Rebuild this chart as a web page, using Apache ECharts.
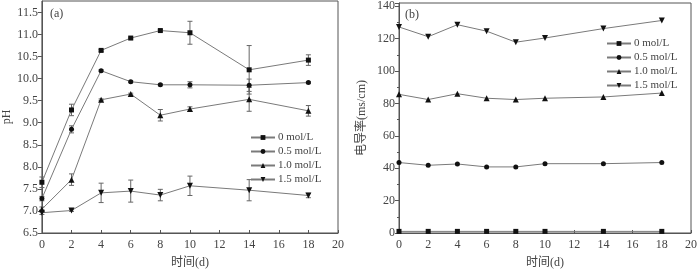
<!DOCTYPE html>
<html><head><meta charset="utf-8">
<script src="https://cdn.jsdelivr.net/npm/echarts@6/dist/echarts.min.js"></script>
<style>html,body{margin:0;padding:0;background:#fff}#c{width:700px;height:274px}</style>
</head><body><div id="c"></div>
<script>
const days = [0, 2, 4, 6, 8, 10, 14, 18];
const seriesNames = ['0 mol/L', '0.5 mol/L', '1.0 mol/L', '1.5 mol/L'];
const xTicks = [0, 2, 4, 6, 8, 10, 12, 14, 16, 18, 20];
const phTicks = [6.5, 7.0, 7.5, 8.0, 8.5, 9.0, 9.5, 10.0, 10.5, 11.0, 11.5];
const ecTicks = [0, 20, 40, 60, 80, 100, 120, 140];

// (a) pH
const ph0  = [7.65, 9.29, 10.64, 10.92, 11.09, 11.04, 10.20, 10.42];
const ph05 = [7.28, 8.85, 10.18, 9.93, 9.86, 9.86, 9.85, 9.91];
const ph10 = [7.04, 7.71, 9.52, 9.65, 9.17, 9.31, 9.53, 9.27];
const ph15 = [6.96, 7.01, 7.41, 7.45, 7.36, 7.57, 7.47, 7.35];
const err0  = [0.12, 0.13, 0.02, 0.02, 0.02, 0.26, 0.55, 0.12];
const err05 = [0.05, 0.08, 0.02, 0.02, 0.02, 0.07, 0.14, 0.02];
const err10 = [0.05, 0.13, 0.02, 0.02, 0.13, 0.05, 0.27, 0.12];
const err15 = [0.04, 0.02, 0.22, 0.25, 0.13, 0.22, 0.24, 0.05];

// (b) conductivity
const ec0  = [1.0, 1.0, 1.0, 1.0, 1.0, 1.0, 1.0, 1.0];
const ec05 = [43.5, 41.8, 42.6, 40.8, 40.8, 42.8, 42.8, 43.5];
const ec10 = [85.6, 82.4, 86.0, 83.2, 82.4, 83.2, 84.0, 86.4];
const ec15 = [127.2, 121.2, 128.6, 124.6, 117.8, 120.4, 126.2, 131.2];

const symbols = ['rect', 'circle', 'triangle', 'triangle'];
const rotates = [0, 0, 0, 180];
const sizes = [5, 5, 6, 6];
const FONT = "'Liberation Serif', 'Noto Sans CJK SC', serif";
const AX = '#555';
const TXT = '#444';

function pairs(ys) { return days.map((d, i) => [d, ys[i]]); }
function errTriples(ys, es) { return days.map((d, i) => [d, ys[i], es[i]]); }

function lineSeries(name, ys, idx, axisIdx) {
  return {
    name: name, type: 'line', xAxisIndex: axisIdx, yAxisIndex: axisIdx,
    data: pairs(ys), symbol: symbols[idx], symbolRotate: rotates[idx], symbolSize: sizes[idx],
    lineStyle: { color: '#7a7a7a', width: 1 }, itemStyle: { color: '#111' },
    z: 3, animation: false
  };
}
function errSeries(ys, es, axisIdx) {
  return {
    name: 'err', type: 'custom', xAxisIndex: axisIdx, yAxisIndex: axisIdx,
    data: errTriples(ys, es), encode: { x: 0, y: 1 }, z: 2, silent: true, animation: false,
    renderItem: function (params, api) {
      const x = api.value(0), y = api.value(1), e = api.value(2);
      const top = api.coord([x, y + e]);
      const bot = api.coord([x, y - e]);
      const w = 2.5;
      const st = { stroke: '#666', lineWidth: 1 };
      return { type: 'group', children: [
        { type: 'line', shape: { x1: top[0], y1: top[1], x2: bot[0], y2: bot[1] }, style: st },
        { type: 'line', shape: { x1: top[0] - w, y1: top[1], x2: top[0] + w, y2: top[1] }, style: st },
        { type: 'line', shape: { x1: bot[0] - w, y1: bot[1], x2: bot[0] + w, y2: bot[1] }, style: st }
      ] };
    }
  };
}

function xAxis(gi) {
  return {
    type: 'value', gridIndex: gi, min: 0, max: 20, interval: 2,
    name: '时间(d)', nameLocation: 'middle', nameGap: 24,
    nameTextStyle: { fontFamily: FONT, fontSize: 12, color: TXT },
    axisLine: { lineStyle: { color: AX } },
    axisTick: { inside: true, length: 3, lineStyle: { color: AX } },
    axisLabel: { fontFamily: FONT, fontSize: 12, color: TXT, margin: 6,
      formatter: v => xTicks.includes(v) ? String(v) : '' },
    splitLine: { show: false }
  };
}

const option = {
  animation: false,
  grid: [
    { left: 39, right: 362, top: 1, bottom: 31, show: true, borderColor: AX, borderWidth: 1 },
    { left: 399, right: 6, top: 3, bottom: 34.5, show: true, borderColor: AX, borderWidth: 1 }
  ],
  xAxis: [xAxis(0), xAxis(1)],
  yAxis: [
    { type: 'value', gridIndex: 0, min: 6.5, max: 11.76, interval: 0.5,
      name: 'pH', nameLocation: 'middle', nameGap: 28, nameRotate: 90,
      nameTextStyle: { fontFamily: FONT, fontSize: 12, color: TXT },
      axisLine: { show: true, lineStyle: { color: AX } },
      axisTick: { show: true, length: 4, lineStyle: { color: AX } },
      axisLabel: { fontFamily: FONT, fontSize: 12, color: TXT, margin: 4, showMaxLabel: false,
        formatter: v => { const t = phTicks.find(p => Math.abs(p - v) < 1e-6); return t === undefined ? '' : t.toFixed(1); } },
      splitLine: { show: false } },
    { type: 'value', gridIndex: 1, min: 0, max: 142, interval: 20,
      name: '电导率(ms/cm)', nameLocation: 'middle', nameGap: 31, nameRotate: 90,
      nameTextStyle: { fontFamily: FONT, fontSize: 12, color: TXT },
      axisLine: { show: true, lineStyle: { color: AX } },
      axisTick: { show: true, length: 4, lineStyle: { color: AX } },
      minorTick: { show: true, splitNumber: 2, length: 2, lineStyle: { color: AX } },
      axisLabel: { fontFamily: FONT, fontSize: 12, color: TXT, margin: 4, showMaxLabel: false,
        formatter: v => ecTicks.includes(v) ? String(v) : '' },
      splitLine: { show: false } }
  ],
  legend: [
    { data: seriesNames, orient: 'vertical', left: 245, top: 127, itemWidth: 24, itemHeight: 6, itemGap: 3,
      textStyle: { fontFamily: FONT, fontSize: 11, color: TXT, padding: [0, 0, 0, -2] }, selectedMode: false },
    { data: seriesNames, orient: 'vertical', left: 601, top: 33, itemWidth: 24, itemHeight: 6, itemGap: 3,
      textStyle: { fontFamily: FONT, fontSize: 11, color: TXT, padding: [0, 0, 0, -2] }, selectedMode: false }
  ],
  graphic: [
    { type: 'text', left: 50, top: 8, style: { text: '(a)', font: "12px " + FONT, fill: TXT } },
    { type: 'text', left: 405, top: 9, style: { text: '(b)', font: "12px " + FONT, fill: TXT } }
  ],
  series: [
    errSeries(ph0, err0, 0), errSeries(ph05, err05, 0), errSeries(ph10, err10, 0), errSeries(ph15, err15, 0),
    lineSeries(seriesNames[0], ph0, 0, 0), lineSeries(seriesNames[1], ph05, 1, 0),
    lineSeries(seriesNames[2], ph10, 2, 0), lineSeries(seriesNames[3], ph15, 3, 0),
    lineSeries(seriesNames[0], ec0, 0, 1), lineSeries(seriesNames[1], ec05, 1, 1),
    lineSeries(seriesNames[2], ec10, 2, 1), lineSeries(seriesNames[3], ec15, 3, 1)
  ]
};
const chart = echarts.init(document.getElementById('c'), null, { renderer: 'canvas' });
chart.setOption(option);
</script></body></html>
